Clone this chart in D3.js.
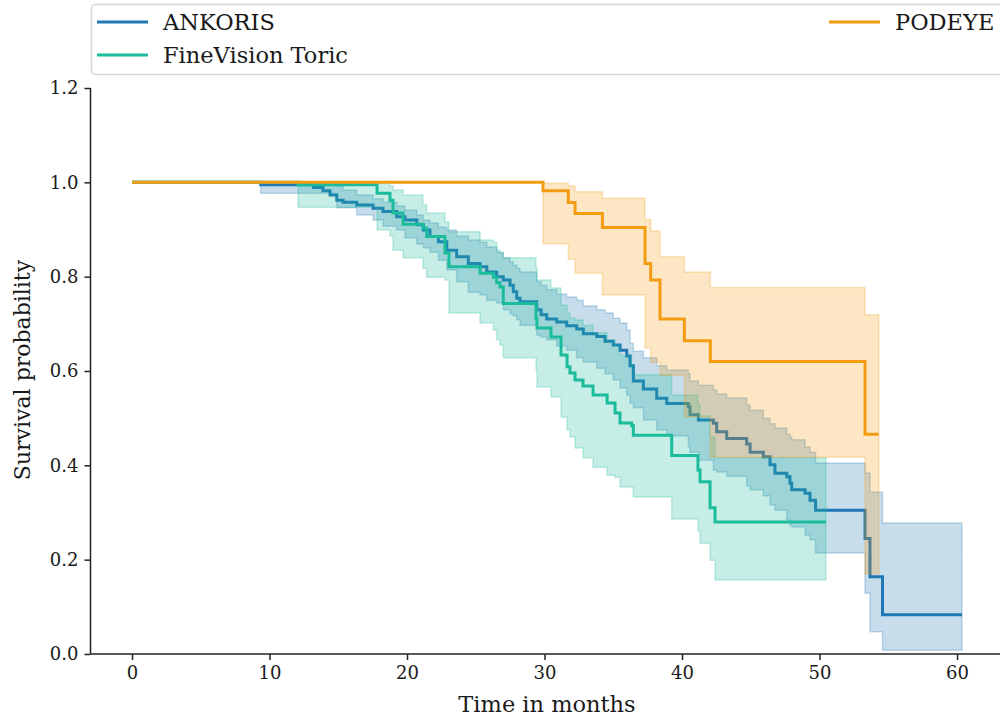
<!DOCTYPE html>
<html>
<head>
<meta charset="utf-8">
<script src="https://cdnjs.cloudflare.com/ajax/libs/d3/7.8.5/d3.min.js"></script>
<style>
  html, body { margin: 0; padding: 0; background: #fff; }
  svg { display: block; }
  text { font-family: "DejaVu Serif", serif; fill: #1a1a1a; }
</style>
</head>
<body>
<div id="chart"></div>
<script>
// ANKORIS
const ankorisTime = [0, 9.36, 13.19, 13.89, 14.40, 14.89, 15.35, 16.34, 17.53, 18.25, 19.25, 19.85, 20.71, 21.19, 21.67, 22.28, 22.89, 23.61, 24.46, 25.31, 25.80, 26.52, 27.00, 27.49, 27.73, 27.98, 28.22, 29.43, 29.75, 30.16, 30.89, 31.61, 32.34, 32.82, 33.80, 34.40, 35.00, 35.49, 35.98, 36.22, 36.46, 37.19, 38.16, 38.89, 40.46, 40.58, 41.19, 42.28, 42.52, 43.25, 44.70, 44.95, 45.91, 46.40, 46.76, 47.62, 47.85, 47.98, 48.95, 49.31, 49.71, 53.31, 53.67, 54.58, 60.36];
const ankorisSurv = [1.000, 0.995, 0.989, 0.982, 0.973, 0.962, 0.958, 0.952, 0.945, 0.938, 0.927, 0.920, 0.910, 0.899, 0.885, 0.874, 0.856, 0.842, 0.828, 0.821, 0.810, 0.800, 0.793, 0.782, 0.768, 0.754, 0.747, 0.730, 0.719, 0.710, 0.704, 0.696, 0.689, 0.679, 0.673, 0.663, 0.655, 0.644, 0.632, 0.611, 0.579, 0.562, 0.542, 0.531, 0.524, 0.507, 0.496, 0.489, 0.471, 0.457, 0.445, 0.428, 0.418, 0.401, 0.383, 0.376, 0.362, 0.348, 0.341, 0.326, 0.305, 0.245, 0.164, 0.083, 0.083];
const ankorisLower = [1.000, 0.977, 0.977, 0.977, 0.977, 0.946, 0.946, 0.931, 0.920, 0.907, 0.899, 0.882, 0.869, 0.861, 0.852, 0.835, 0.814, 0.789, 0.767, 0.761, 0.750, 0.744, 0.730, 0.721, 0.717, 0.708, 0.697, 0.676, 0.672, 0.666, 0.653, 0.644, 0.628, 0.619, 0.606, 0.594, 0.581, 0.564, 0.549, 0.532, 0.522, 0.496, 0.475, 0.462, 0.439, 0.428, 0.411, 0.390, 0.386, 0.377, 0.356, 0.348, 0.335, 0.316, 0.305, 0.284, 0.273, 0.269, 0.252, 0.242, 0.214, 0.129, 0.047, 0.008, 0.008];
const ankorisUpper = [1.000, 1.000, 1.000, 0.998, 0.996, 0.992, 0.984, 0.973, 0.965, 0.958, 0.950, 0.941, 0.931, 0.920, 0.914, 0.905, 0.899, 0.886, 0.878, 0.873, 0.863, 0.852, 0.840, 0.831, 0.825, 0.818, 0.810, 0.789, 0.782, 0.772, 0.763, 0.757, 0.750, 0.738, 0.730, 0.723, 0.712, 0.702, 0.687, 0.659, 0.642, 0.628, 0.611, 0.602, 0.594, 0.579, 0.570, 0.560, 0.551, 0.543, 0.528, 0.517, 0.500, 0.488, 0.479, 0.466, 0.460, 0.454, 0.439, 0.428, 0.405, 0.384, 0.343, 0.278, 0.278];

// FineVision Toric
const fineTime = [0, 12.07, 17.82, 18.76, 18.98, 19.71, 21.16, 21.43, 22.76, 23.05, 25.31, 26.28, 26.52, 26.76, 27.00, 29.38, 29.45, 30.47, 31.20, 31.64, 31.85, 32.22, 32.80, 33.53, 34.55, 35.13, 35.49, 36.34, 36.46, 39.25, 41.16, 41.31, 42.04, 42.40, 50.47];
const fineSurv = [1.000, 0.995, 0.977, 0.962, 0.935, 0.911, 0.903, 0.885, 0.850, 0.821, 0.807, 0.799, 0.787, 0.778, 0.743, 0.712, 0.691, 0.672, 0.634, 0.609, 0.596, 0.581, 0.568, 0.549, 0.532, 0.511, 0.490, 0.484, 0.464, 0.421, 0.390, 0.365, 0.310, 0.280, 0.280];
const fineLower = [1.000, 0.947, 0.899, 0.886, 0.856, 0.840, 0.818, 0.799, 0.793, 0.723, 0.702, 0.687, 0.666, 0.655, 0.628, 0.602, 0.566, 0.545, 0.502, 0.475, 0.460, 0.437, 0.416, 0.396, 0.379, 0.375, 0.354, 0.352, 0.333, 0.286, 0.261, 0.235, 0.199, 0.157, 0.157];
const fineUpper = [1.000, 1.000, 0.998, 0.992, 0.984, 0.973, 0.952, 0.935, 0.916, 0.895, 0.878, 0.873, 0.856, 0.850, 0.840, 0.820, 0.793, 0.776, 0.740, 0.723, 0.712, 0.708, 0.697, 0.681, 0.666, 0.655, 0.634, 0.613, 0.592, 0.549, 0.528, 0.505, 0.460, 0.416, 0.416];

// PODEYE
const podeyeTime = [0, 29.89, 31.73, 32.22, 34.21, 37.31, 37.72, 38.40, 40.17, 42.06, 53.31, 54.31];
const podeyeSurv = [1.000, 0.982, 0.957, 0.934, 0.904, 0.828, 0.793, 0.710, 0.664, 0.620, 0.466, 0.466];
const podeyeLower = [1.000, 0.870, 0.837, 0.807, 0.761, 0.649, 0.618, 0.591, 0.503, 0.417, 0.170, 0.170];
const podeyeUpper = [1.000, 0.998, 0.992, 0.980, 0.966, 0.921, 0.897, 0.842, 0.810, 0.777, 0.719, 0.719];

const groupNames = ["ANKORIS", "FineVision Toric", "PODEYE"];
const groupColors = ["#1f77b4", "#1abc9c", "#f39c12"];
const xTicks = [0, 10, 20, 30, 40, 50, 60];
const yTicks = [0.0, 0.2, 0.4, 0.6, 0.8, 1.0, 1.2];

const groups = [
  {time: ankorisTime, surv: ankorisSurv, lo: ankorisLower, hi: ankorisUpper},
  {time: fineTime, surv: fineSurv, lo: fineLower, hi: fineUpper},
  {time: podeyeTime, surv: podeyeSurv, lo: podeyeLower, hi: podeyeUpper}
].map((g, i) => ({
  name: groupNames[i],
  color: groupColors[i],
  rows: g.time.map((t, j) => ({t: t, s: g.surv[j], lo: g.lo[j], hi: g.hi[j]}))
}));

const width = 1000, height = 716;
const svg = d3.select("#chart").append("svg")
  .attr("width", width)
  .attr("height", height);

const x = d3.scaleLinear().domain([-3.02, 63.38]).range([90.5, 1003.5]);
const y = d3.scaleLinear().domain([0, 1.2]).range([654, 88]);

// bands and curves, in plotting order
groups.forEach(g => {
  const area = d3.area()
    .curve(d3.curveStepAfter)
    .x(d => x(d.t))
    .y0(d => y(d.lo))
    .y1(d => y(d.hi));
  const line = d3.line()
    .curve(d3.curveStepAfter)
    .x(d => x(d.t))
    .y(d => y(d.s));

  svg.append("path")
    .datum(g.rows.slice(1))
    .attr("d", area)
    .attr("fill", g.color)
    .attr("fill-opacity", 0.25)
    .attr("stroke", g.color)
    .attr("stroke-opacity", 0.25)
    .attr("stroke-width", 1.5);

  svg.append("path")
    .datum(g.rows)
    .attr("d", line)
    .attr("fill", "none")
    .attr("stroke", g.color)
    .attr("stroke-width", 3);
});

// axes
const xAxis = d3.axisBottom(x).tickValues(xTicks).tickSize(6).tickPadding(6).tickFormat(d3.format("d"));
const yAxis = d3.axisLeft(y).tickValues(yTicks).tickSize(6).tickPadding(6).tickFormat(d3.format(".1f"));

const gx = svg.append("g").attr("transform", "translate(0,654)").call(xAxis);
const gy = svg.append("g").attr("transform", "translate(90.5,0)").call(yAxis);

[gx, gy].forEach(g => {
  g.select(".domain").attr("stroke", "#222").attr("stroke-width", 1.5);
  g.selectAll(".tick line").attr("stroke", "#222").attr("stroke-width", 1.5);
  g.selectAll(".tick text")
    .style("font-family", "DejaVu Serif")
    .style("font-size", "18px")
    .attr("fill", "#1a1a1a");
});
gy.select(".domain").attr("d", "M0,88V654");
gx.select(".domain").attr("d", "M90.5,0H1003.5");

svg.append("text")
  .attr("x", 547)
  .attr("y", 712)
  .attr("text-anchor", "middle")
  .style("font-size", "22.5px")
  .text("Time in months");

svg.append("text")
  .attr("transform", "translate(30,370) rotate(-90)")
  .attr("text-anchor", "middle")
  .style("font-size", "22px")
  .text("Survival probability");

// legend
const legend = svg.append("g");
legend.append("rect")
  .attr("x", 91.5).attr("y", 4.5)
  .attr("width", 930).attr("height", 70)
  .attr("rx", 4)
  .attr("fill", "#fff")
  .attr("stroke", "#d6d6d6")
  .attr("stroke-width", 1.5);

const legendPos = [[97, 22], [97, 55], [829, 22]];
groups.forEach((g, i) => {
  const [lx, ly] = legendPos[i];
  legend.append("line")
    .attr("x1", lx).attr("x2", lx + 51)
    .attr("y1", ly).attr("y2", ly)
    .attr("stroke", g.color)
    .attr("stroke-width", 3);
  legend.append("text")
    .attr("x", lx + 66)
    .attr("y", ly + 8)
    .style("font-size", "22.5px")
    .text(g.name);
});
</script>
</body>
</html>
